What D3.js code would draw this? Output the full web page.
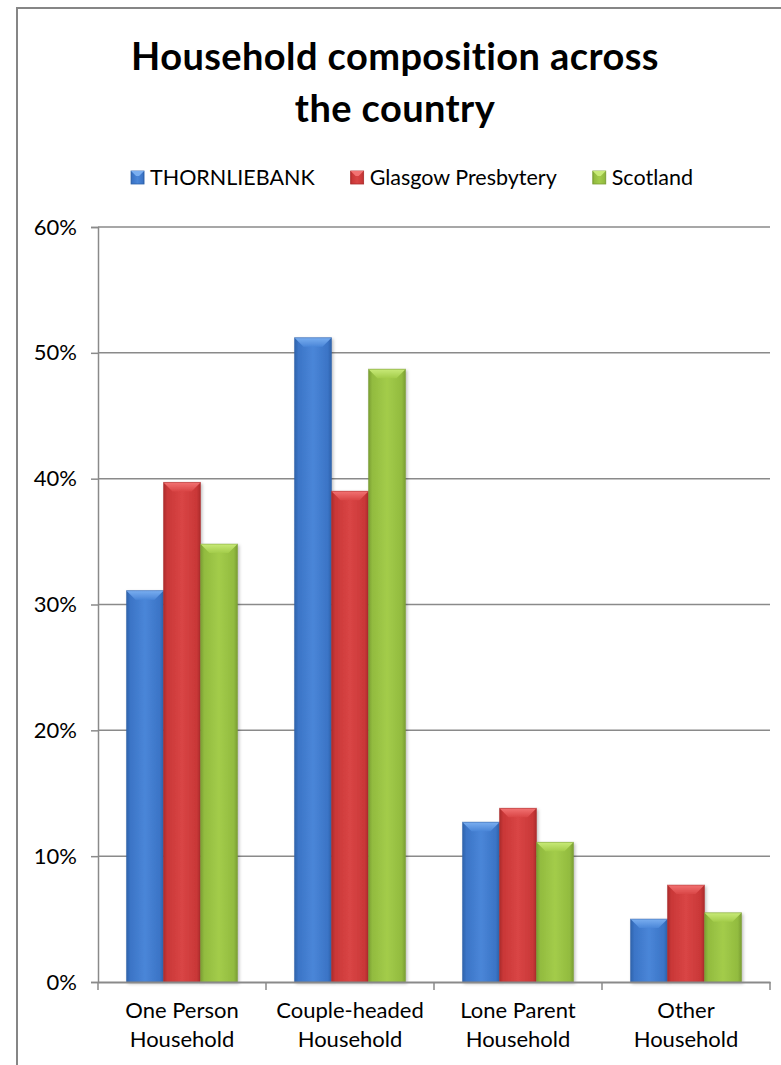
<!DOCTYPE html>
<html lang="en">
<head>
  <meta charset="UTF-8" />
  <title>Household composition across the country</title>
  <style>
    body { margin: 0; background: #fff; font-family: Lato, "Open Sans", sans-serif; }
    svg { display: block; }
  </style>
</head>
<body>
  <svg id="chart"></svg>

  <script src="https://d3js.org/d3.v7.min.js"></script>
  <script>
    // data
    const categories = ["One Person Household", "Couple-headed Household", "Lone Parent Household", "Other Household"];
    const categoryLines = [["One Person", "Household"], ["Couple-headed", "Household"], ["Lone Parent", "Household"], ["Other", "Household"]];
    const seriesNames = ["THORNLIEBANK", "Glasgow Presbytery", "Scotland"];
    const thornliebank = [0.311, 0.512, 0.127, 0.050];
    const glasgowPresbytery = [0.397, 0.390, 0.138, 0.077];
    const scotland = [0.348, 0.487, 0.111, 0.055];
    const yTicks = [0, 0.1, 0.2, 0.3, 0.4, 0.5, 0.6];
    const titleLines = ["Household composition across", "the country"];

    // colours: [dark edge, base, light centre, bevel top]
    const palette = [
      ["#2f62aa", "#3b74c6", "#4a86d8", "#7aaef0"],
      ["#ab2c2c", "#c93737", "#d94545", "#f27272"],
      ["#7a9e33", "#92bb3f", "#a3cc4a", "#c8ea78"]
    ];

    const W = 781, H = 1065;
    const plot = { left: 98, right: 770, top: 227, bottom: 982 };

    const svg = d3.select("#chart").attr("width", W).attr("height", H);
    const defs = svg.append("defs");

    // outer chart frame (right and bottom run off the picture)
    svg.append("rect")
      .attr("x", 17).attr("y", 8)
      .attr("width", 900).attr("height", 1200)
      .attr("fill", "none").attr("stroke", "#868686").attr("stroke-width", 2);

    // title
    const title = svg.append("text")
      .attr("text-anchor", "middle")
      .attr("font-weight", "bold")
      .attr("font-size", 38)
      .attr("letter-spacing", 0.4)
      .attr("fill", "#000");
    titleLines.forEach((t, i) => {
      title.append("tspan").attr("x", 395).attr("y", 70 + i * 52).text(t);
    });

    const series = seriesNames.map((name, i) => ({
      name, i, values: [thornliebank, glasgowPresbytery, scotland][i]
    }));

    // gradients
    series.forEach(s => {
      const c = palette[s.i];
      const g = defs.append("linearGradient").attr("id", "bar" + s.i)
        .attr("x1", 0).attr("x2", 1).attr("y1", 0).attr("y2", 0);
      [[0, c[0]], [0.1, c[1]], [0.5, c[2]], [0.9, c[1]], [1, c[0]]].forEach(([o, col]) =>
        g.append("stop").attr("offset", o).attr("stop-color", col));
      const t = defs.append("linearGradient").attr("id", "top" + s.i)
        .attr("x1", 0).attr("x2", 0).attr("y1", 0).attr("y2", 1);
      t.append("stop").attr("offset", 0).attr("stop-color", c[3]);
      t.append("stop").attr("offset", 1).attr("stop-color", c[2]);
    });

    const shadow = defs.append("filter").attr("id", "shadow")
      .attr("x", "-20%").attr("y", "-5%").attr("width", "140%").attr("height", "110%");
    shadow.append("feDropShadow").attr("dx", 1.5).attr("dy", 1.5)
      .attr("stdDeviation", 1.5).attr("flood-color", "#000").attr("flood-opacity", 0.25);

    // scales
    const y = d3.scaleLinear().domain([0, 0.6]).range([plot.bottom, plot.top]);
    const x0 = d3.scaleBand().domain(categories).range([plot.left, plot.right]);
    const groupPad = 28.5;
    const x1 = d3.scaleBand().domain(seriesNames).range([groupPad, x0.bandwidth() - groupPad]);

    // gridlines
    svg.append("g").selectAll("line")
      .data(yTicks.slice(1))
      .join("line")
      .attr("x1", plot.left).attr("x2", plot.right)
      .attr("y1", d => y(d)).attr("y2", d => y(d))
      .attr("stroke", "#8a8a8a").attr("stroke-width", 1.5);

    // bars
    const bars = svg.append("g");
    series.forEach(s => {
      const g = bars.append("g").attr("filter", "url(#shadow)");
      s.values.forEach((v, j) => {
        const bx = x0(categories[j]) + x1(s.name);
        const bw = x1.bandwidth();
        const by = y(v);
        const bh = y(0) - by;
        const d = Math.min(9, bh / 2);
        g.append("rect")
          .attr("x", bx).attr("y", by).attr("width", bw).attr("height", bh)
          .attr("fill", `url(#bar${s.i})`);
        g.append("polygon")
          .attr("points", [[bx, by], [bx + bw, by], [bx + bw - d, by + d], [bx + d, by + d]].join(" "))
          .attr("fill", `url(#top${s.i})`);
        g.append("rect")
          .attr("x", bx).attr("y", by).attr("width", bw).attr("height", bh)
          .attr("fill", "none").attr("stroke", palette[s.i][0]).attr("stroke-opacity", 0.5).attr("stroke-width", 1);
      });
    });

    // y axis
    const yAxis = svg.append("g").attr("transform", `translate(${plot.left},0)`)
      .call(d3.axisLeft(y).tickValues(yTicks).tickFormat(d3.format(".0%")).tickSize(7).tickPadding(14));
    yAxis.select(".domain").attr("stroke", "#8a8a8a").attr("stroke-width", 1.5);
    yAxis.selectAll(".tick line").attr("stroke", "#8a8a8a").attr("stroke-width", 1.5);
    yAxis.selectAll(".tick text")
      .attr("font-family", "Lato, 'Open Sans', sans-serif")
      .attr("font-size", 22).attr("fill", "#000");

    // x axis
    const xAxis = svg.append("g").attr("transform", `translate(0,${plot.bottom})`)
      .call(d3.axisBottom(x0).tickSize(0).tickFormat(""));
    xAxis.select(".domain").attr("stroke", "#8a8a8a").attr("stroke-width", 2);
    xAxis.selectAll(".tick").remove();
    const bounds = categories.map(c => x0(c)).concat([plot.right]);
    xAxis.selectAll("line.sep")
      .data(bounds)
      .join("line").attr("class", "sep")
      .attr("x1", d => d).attr("x2", d => d)
      .attr("y1", 0).attr("y2", 8)
      .attr("stroke", "#8a8a8a").attr("stroke-width", 1.5);

    const labels = svg.append("g")
      .attr("text-anchor", "middle").attr("font-size", 22).attr("fill", "#000");
    categories.forEach((c, j) => {
      const t = labels.append("text");
      categoryLines[j].forEach((line, k) => {
        t.append("tspan").attr("x", x0(c) + x0.bandwidth() / 2).attr("y", 1018 + k * 29).text(line);
      });
    });

    // legend
    const legend = svg.append("g").attr("font-size", 21.5).attr("fill", "#000");
    const items = series.map(s => {
      const g = legend.append("g");
      g.append("rect").attr("width", 13).attr("height", 13).attr("y", -14)
        .attr("fill", `url(#bar${s.i})`).attr("stroke", palette[s.i][0]).attr("stroke-width", 0.8);
      g.append("polygon").attr("points", "0,-14 13,-14 8,-9 5,-9").attr("fill", palette[s.i][3]);
      const txt = g.append("text").attr("x", 19).attr("y", 0).text(s.name);
      return { g, w: 19 + txt.node().getComputedTextLength() };
    });
    const gap = 36;
    const total = d3.sum(items, d => d.w) + gap * (items.length - 1);
    let lx = 412 - total / 2;
    items.forEach(it => {
      it.g.attr("transform", `translate(${lx},185)`);
      lx += it.w + gap;
    });
  </script>
</body>
</html>
